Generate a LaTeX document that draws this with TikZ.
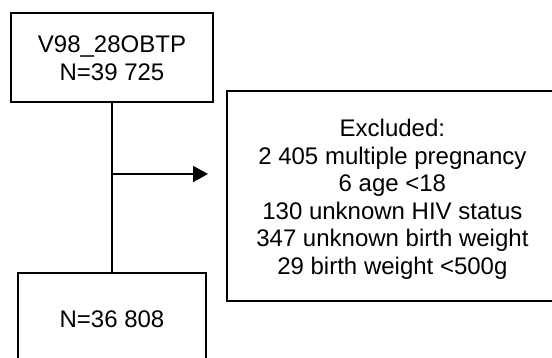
\documentclass[tikz,border=0pt]{standalone}
\usepackage{fontspec}
\setmainfont{Liberation Sans}
\usetikzlibrary{arrows.meta}
\begin{document}
\begin{tikzpicture}[x=0.5pt,y=-0.5pt,
  box/.style={draw, line width=1pt, inner sep=0pt, align=center,
    font=\fontsize{12}{13.8}\selectfont},
  link/.style={line width=1pt},
  arr/.style={link, -{Triangle[length=7.5pt,width=8pt]}}]
\useasboundingbox (0,0) rectangle (552,358);
\clip (0,0) rectangle (552,358);

% study population
\node[box, minimum width=101pt, minimum height=44.5pt] (src) at (112,58)
  {V98\_28OBTP\\N=39 725};

% exclusions (the strut lowers the text block a little inside the box)
\node[box, minimum width=165.8pt, minimum height=105pt] (excl) at (392.4,195.7)
  {\rule{0pt}{12.3pt}Excluded:\\2 405 multiple pregnancy\\6 age <18\\130 unknown HIV status\\347 unknown birth weight\\29 birth weight <500g};

% final sample
\node[box, minimum width=94pt, minimum height=46.3pt] (kept) at (112,319)
  {N=36 808};

% flow
\draw[link] (src.south) -- (kept.north);
\coordinate (split) at (112,174);
\coordinate (tip) at (208,174);
\draw[arr] (split) -- (tip);
\end{tikzpicture}
\end{document}
